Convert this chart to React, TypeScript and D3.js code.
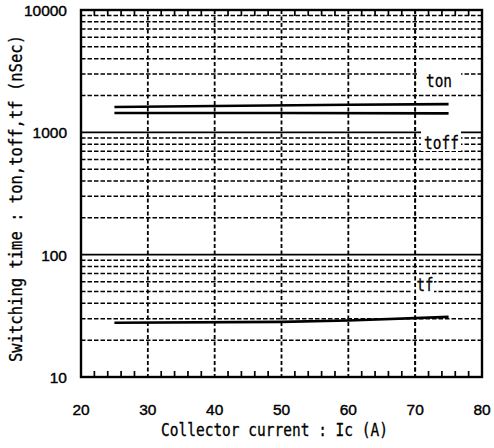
import React from "react";
import * as d3 from "d3";

const xTicks = [20, 30, 40, 50, 60, 70, 80];
const yTicks = [10, 100, 1000, 10000];
const tonX = [25, 40, 60, 75];
const tonY = [1610, 1640, 1680, 1700];
const toffX = [25, 50, 75];
const toffY = [1440, 1440, 1430];
const tfX = [25, 50, 60, 75];
const tfY = [27.8, 28.2, 29, 31];
const labels = ["ton", "toff", "tf"];

const W = 494, H = 448;
const L = 81, R = 482, T = 10, B = 377;

export default function App() {
  const x = d3.scaleLinear().domain([20, 80]).range([L, R]);
  const y = d3.scaleLog().domain([10, 10000]).range([B, T]);
  const line = d3.line<[number, number]>().x(d => x(d[0])).y(d => y(d[1]));

  const minorY: number[] = [];
  [10, 100, 1000].forEach(dec => { for (let k = 2; k <= 9; k++) minorY.push(k * dec); });
  const minorX: number[] = [];
  for (let v = 22; v < 80; v += 2) if (v % 10 !== 0) minorX.push(v);

  const mono = "'DejaVu Sans Mono', monospace";
  const sans = "'Liberation Sans', Arial, sans-serif";

  const lab = [
    { t: labels[0], x: 426, y: 86.5, bx: 419, by: 69, bw: 42, bh: 20, len: 26 },
    { t: labels[1], x: 424, y: 149, bx: 421, by: 131, bw: 40, bh: 20, len: 35 },
    { t: labels[2], x: 416.5, y: 290.5, bx: 411, by: 277, bw: 23, bh: 18, len: 17 },
  ];

  return (
    <svg width={W} height={H} style={{ position: "absolute", left: 0, top: 0, background: "#fff" }}>
      {minorY.map(v => (
        <line key={"gy" + v} x1={L} x2={R} y1={y(v)} y2={y(v)} stroke="#000" strokeWidth={1.5} strokeDasharray="4.5,2" />
      ))}
      {[100, 1000].map(v => (
        <line key={"gd" + v} x1={L} x2={R} y1={y(v)} y2={y(v)} stroke="#000" strokeWidth={1.8} />
      ))}
      {xTicks.slice(1, -1).map(v => (
        <line key={"gx" + v} x1={x(v)} x2={x(v)} y1={T} y2={B} stroke="#000" strokeWidth={1.8} strokeDasharray="4,2.5" />
      ))}
      {minorX.map(v => (
        <g key={"mx" + v}>
          <line x1={x(v)} x2={x(v)} y1={B} y2={B - 6} stroke="#000" strokeWidth={1.7} />
          <line x1={x(v)} x2={x(v)} y1={T} y2={T + 6} stroke="#000" strokeWidth={1.7} />
        </g>
      ))}
      {lab.map(l => (
        <rect key={"bg" + l.t} x={l.bx} y={l.by} width={l.bw} height={l.bh} fill="#fff" />
      ))}
      <line x1={x(70)} x2={x(70)} y1={T} y2={B} stroke="#000" strokeWidth={1.8} strokeDasharray="4,2.5" />
      {lab.map(l => (
        <text key={"t" + l.t} x={l.x} y={l.y} fontFamily={mono} fontSize={17} textLength={l.len} lengthAdjust="spacingAndGlyphs" fill="#000" stroke="#000" strokeWidth={0.3}>{l.t}</text>
      ))}
      <path d={line(tonX.map((v, i) => [v, tonY[i]] as [number, number])) || ""} fill="none" stroke="#000" strokeWidth={2.6} />
      <path d={line(toffX.map((v, i) => [v, toffY[i]] as [number, number])) || ""} fill="none" stroke="#000" strokeWidth={2.6} />
      <path d={line(tfX.map((v, i) => [v, tfY[i]] as [number, number])) || ""} fill="none" stroke="#000" strokeWidth={2.6} />
      <rect x={L} y={T} width={R - L} height={B - T} fill="none" stroke="#000" strokeWidth={2.4} />
      {yTicks.map(v => (
        <text key={"yl" + v} x={67} y={y(v) + 6} textAnchor="end" fontFamily={sans} fontSize={15.5} fill="#000" stroke="#000" strokeWidth={0.4}>{v}</text>
      ))}
      {xTicks.map(v => (
        <text key={"xl" + v} x={x(v)} y={415} textAnchor="middle" fontFamily={sans} fontSize={15.5} fill="#000" stroke="#000" strokeWidth={0.4}>{v}</text>
      ))}
      <text x={161} y={436} fontFamily={mono} fontSize={17} textLength={227} lengthAdjust="spacingAndGlyphs" fill="#000" stroke="#000" strokeWidth={0.3}>Collector current : Ic (A)</text>
      <text transform="translate(22,362) rotate(-90)" x={0} y={0} fontFamily={mono} fontSize={17} textLength={327} lengthAdjust="spacingAndGlyphs" fill="#000" stroke="#000" strokeWidth={0.3}>Switching time : ton,toff,tf (nSec)</text>
    </svg>
  );
}
